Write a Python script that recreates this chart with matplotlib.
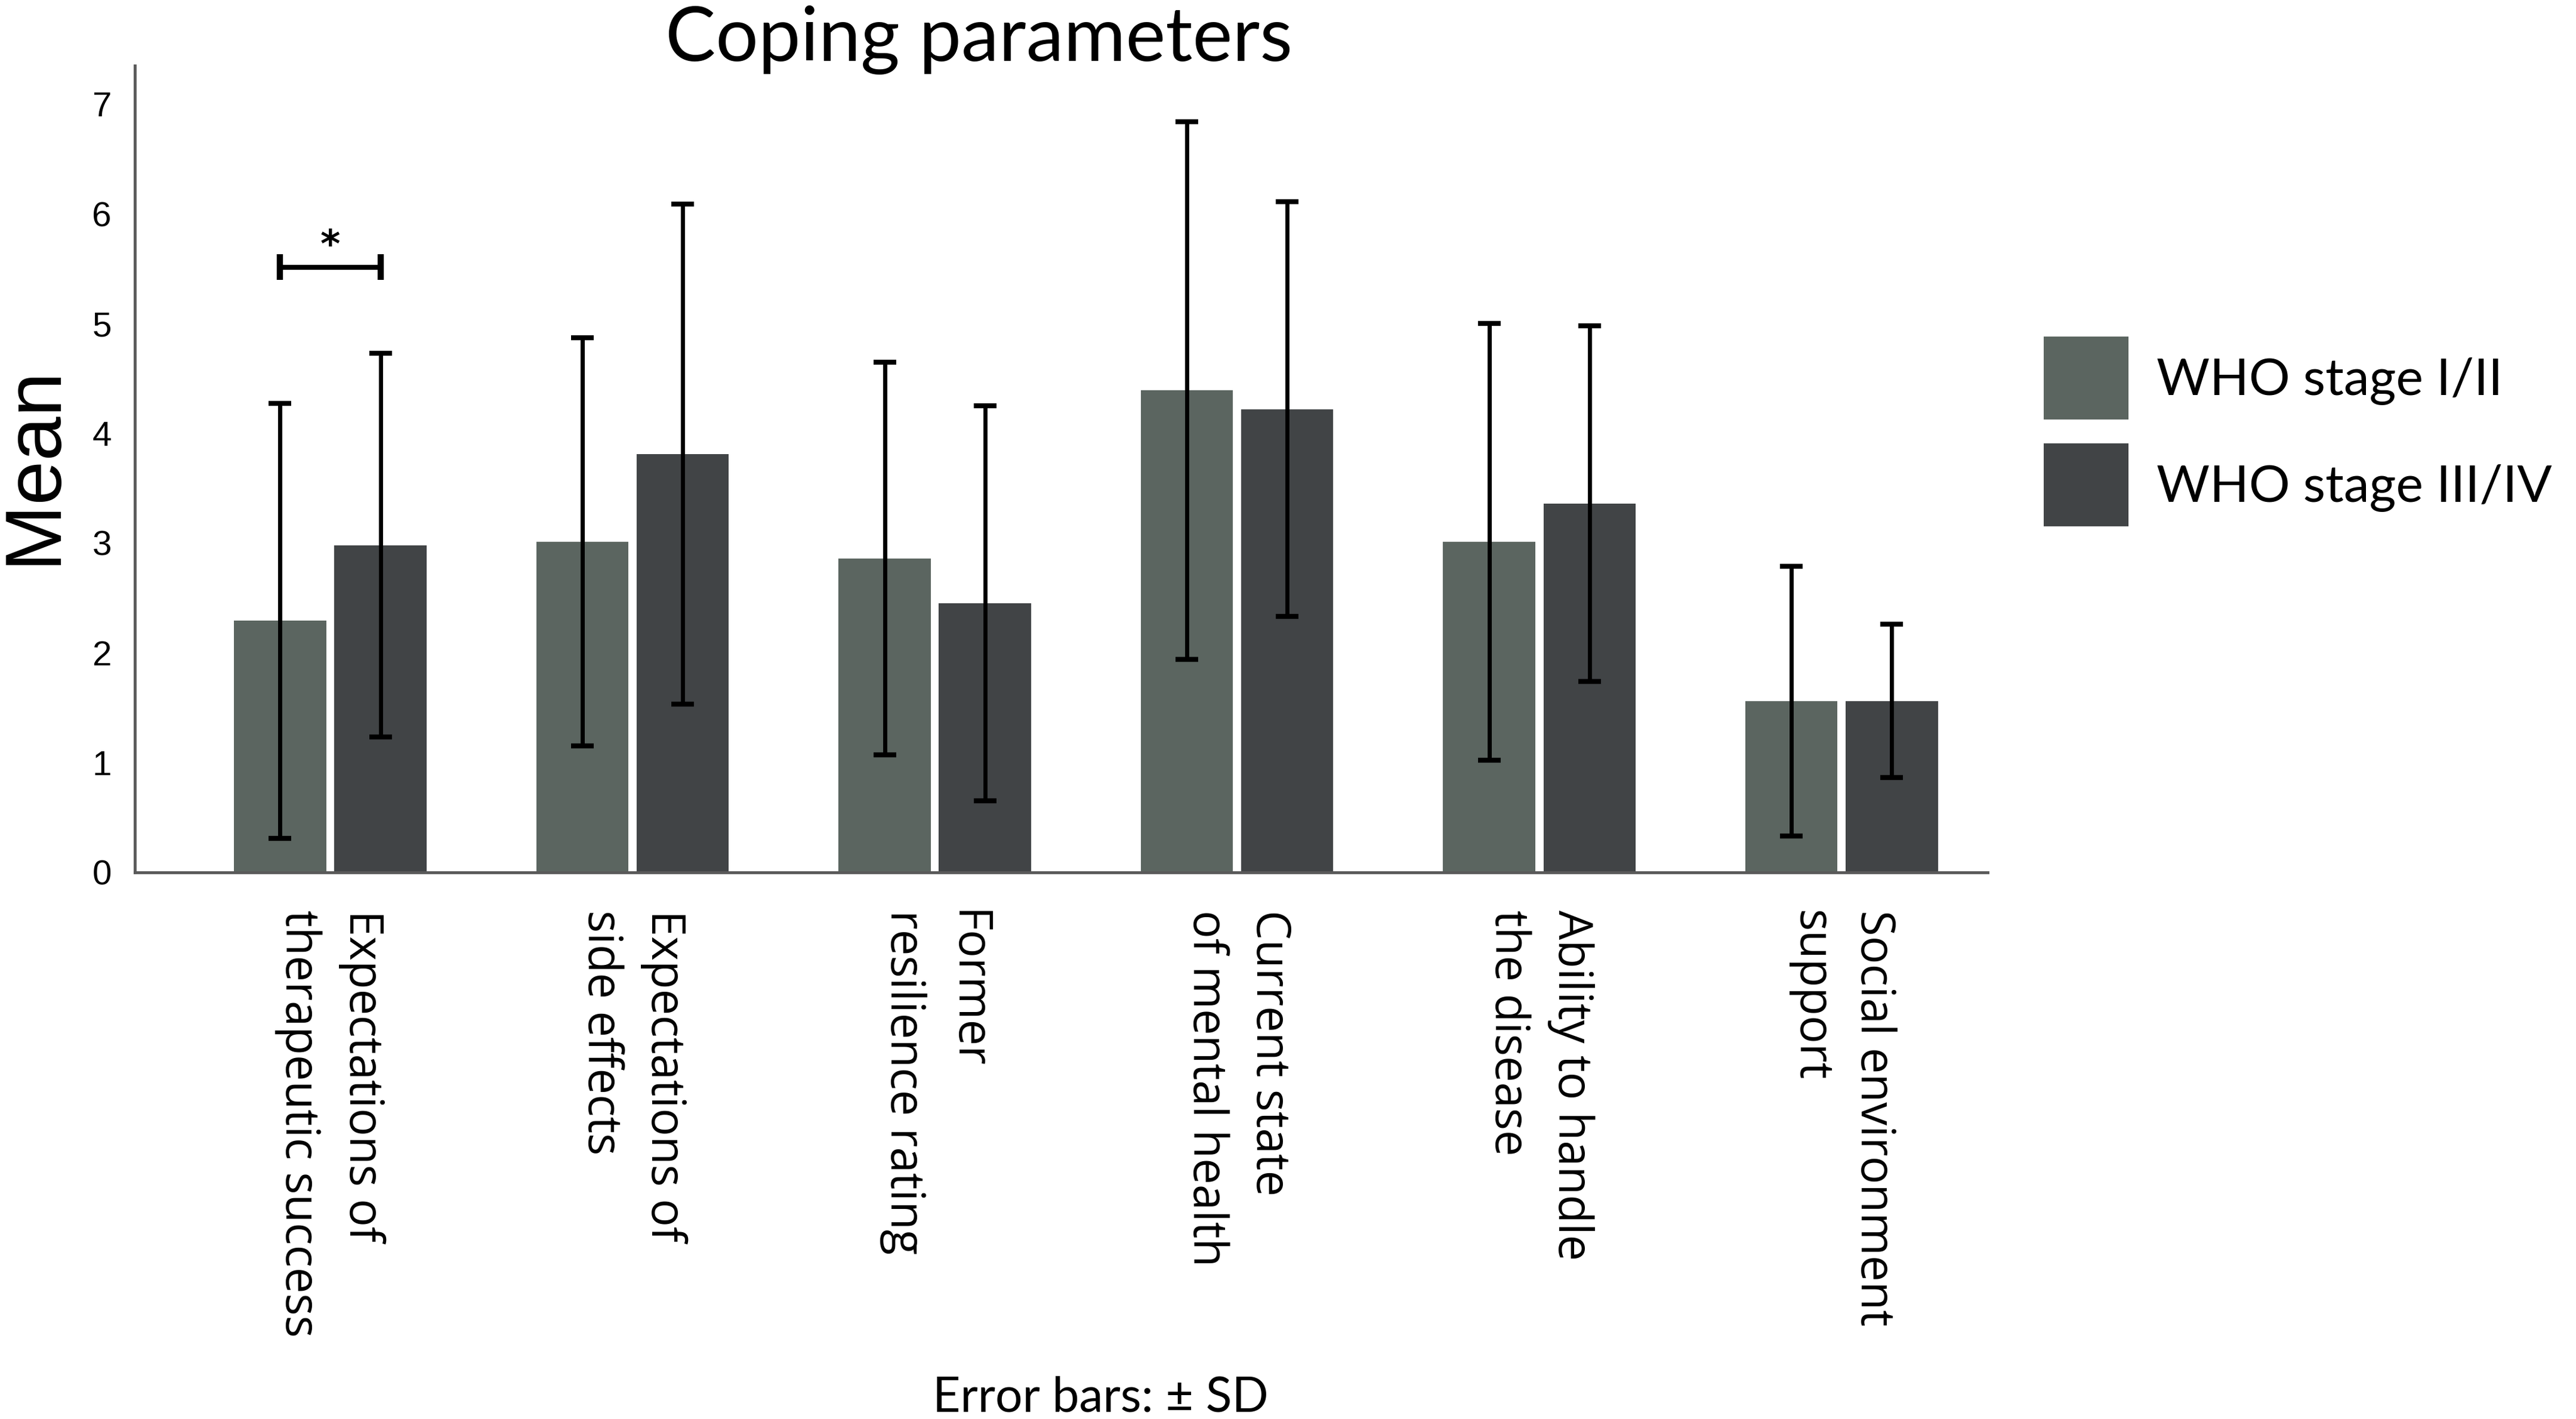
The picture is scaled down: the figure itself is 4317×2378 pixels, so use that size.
import matplotlib
matplotlib.use("Agg")
import matplotlib.pyplot as plt
import numpy as np

categories = [
    "Expectations of\ntherapeutic success",
    "Expectations of\nside effects",
    "Former\nresilience rating",
    "Current state\nof mental health",
    "Ability to handle\nthe disease",
    "Social environment\nsupport",
]
series_names = ["WHO stage I/II", "WHO stage III/IV"]
mean_stage12 = [2.29, 3.01, 2.86, 4.39, 3.01, 1.56]
sd_stage12 = [1.98, 1.86, 1.79, 2.45, 1.99, 1.23]
mean_stage34 = [2.98, 3.81, 2.45, 4.22, 3.36, 1.56]
sd_stage34 = [1.75, 2.28, 1.80, 1.89, 1.62, 0.70]
yticks = [0, 1, 2, 3, 4, 5, 6, 7]
sig_group = 0
sig_level = 5.51
sig_label = "*"

col_light = "#5b6560"
col_dark = "#414446"

fig = plt.figure(figsize=(43.17, 23.78), dpi=100)
ax = fig.add_axes([0.0523, 0.3854, 0.7194, 0.5683])

x = np.arange(len(categories))
w = 0.305
off = (w + 0.027) / 2

err_kw = dict(ecolor="black", elinewidth=5, capsize=14, capthick=6)
b1 = ax.bar(x - off, mean_stage12, w, yerr=sd_stage12, color=col_light,
            error_kw=err_kw, label=series_names[0])
b2 = ax.bar(x + off, mean_stage34, w, yerr=sd_stage34, color=col_dark,
            error_kw=err_kw, label=series_names[1])

# significance bracket
xl = x[sig_group] - off
xr = x[sig_group] + off
ax.plot([xl, xr], [sig_level, sig_level], color="black", lw=6, solid_capstyle="butt")
ax.plot([xl, xl], [sig_level - 0.11, sig_level + 0.12], color="black", lw=7.5, solid_capstyle="butt")
ax.plot([xr, xr], [sig_level - 0.11, sig_level + 0.12], color="black", lw=7.5, solid_capstyle="butt")
ax.text((xl + xr) / 2, sig_level + 0.19, sig_label, ha="center", va="center",
        fontsize=46, fontfamily="DejaVu Sans", fontweight="bold")

ax.set_xlim(-0.647, len(categories) - 1 + 0.484)
ax.set_ylim(0, 7.35)
ax.set_yticks(yticks)
ax.set_yticklabels([str(v) for v in yticks], fontsize=42, fontfamily="Liberation Sans")
ax.set_xticks(x)
ax.set_xticklabels(categories, rotation=-90, ha="center", va="top",
                   fontsize=56, fontfamily="Open Sans", linespacing=1.45,
                   multialignment="left")
ax.tick_params(axis="both", length=0)
ax.tick_params(axis="x", pad=46)
ax.tick_params(axis="y", pad=28)

for s in ["top", "right"]:
    ax.spines[s].set_visible(False)
for s in ["left", "bottom"]:
    ax.spines[s].set_color("#5a5a5a")
    ax.spines[s].set_linewidth(3.5)

fig.text(57 / 4317, 1 - 283 / 864, "Mean", rotation=90, ha="center", va="center",
         fontsize=96, fontfamily="Liberation Sans")
fig.text(0.380, 0.972, "Coping parameters", ha="center", va="center",
         fontsize=91, fontfamily="Lato")
fig.text(0.4273, 0.015, "Error bars: \u00b1 SD", ha="center", va="center",
         fontsize=58, fontfamily="Lato")

leg = ax.legend(handles=[b1, b2], loc="upper left",
                bbox_to_anchor=(1244 / 1568, 1 - 205 / 864), bbox_transform=fig.transFigure,
                frameon=False, prop={"family": "Lato", "size": 62},
                handlelength=1.65, handleheight=2.1, labelspacing=0.47,
                handletextpad=0.55, borderaxespad=0, borderpad=0)

fig.savefig("out.png", dpi=100)
